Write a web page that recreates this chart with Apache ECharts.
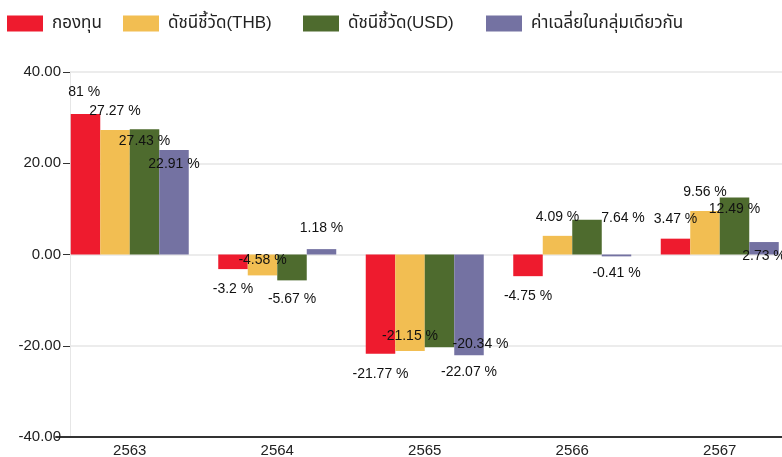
<!DOCTYPE html>
<html>
<head>
<meta charset="utf-8">
<script src="https://cdn.jsdelivr.net/npm/echarts@6/dist/echarts.min.js"></script>
<style>
html,body{margin:0;padding:0;background:#fff;}
#chart{width:782px;height:457px;}
</style>
</head>
<body>
<div id="chart"></div>
<script>
const categories = ['2563', '2564', '2565', '2566', '2567'];
const seriesNames = ['กองทุน', 'ดัชนีชี้วัด(THB)', 'ดัชนีชี้วัด(USD)', 'ค่าเฉลี่ยในกลุ่มเดียวกัน'];
const fundValues = [30.81, -3.2, -21.77, -4.75, 3.47];
const benchThbValues = [27.27, -4.58, -21.15, 4.09, 9.56];
const benchUsdValues = [27.43, -5.67, -20.34, 7.64, 12.49];
const peerAvgValues = [22.91, 1.18, -22.07, -0.41, 2.73];
const yMin = -40, yMax = 40, yStep = 20;

const colors = ['#EE1B2E', '#F2BE52', '#4E6B2E', '#7472A2'];
const FONT = "'Liberation Sans', Arial, 'Noto Sans Thai', Tahoma, sans-serif";

// label placement rules per series (style, derived from sign of value)
const labelRules = [
  v => ({ position: 'outside', distance: 13 }),
  v => v >= 0 ? { position: 'top', distance: 12 } : { position: 'insideBottom', distance: 8 },
  v => v >= 0 ? { position: 'insideTop', distance: 5 } : { position: 'outside', distance: 12 },
  v => v >= 2 ? { position: 'insideTop', distance: 7 } : (v >= 0 ? { position: 'top', distance: 14 } : { position: 'outside', distance: 10 })
];
// individual label nudges seen in the reference
const labelNudges = { '0-0': [-11, -2], '2-2': [41, -22], '2-3': [36, -14] };
// legend item left positions (layout)
const legendLefts = [7, 123, 303, 486];

const allValues = [fundValues, benchThbValues, benchUsdValues, peerAvgValues];

const series = allValues.map((vals, s) => ({
  name: seriesNames[s],
  type: 'bar',
  xAxisIndex: 1,
  yAxisIndex: 1,
  barGap: '0%',
  barCategoryGap: '20%',
  itemStyle: { color: colors[s] },
  data: vals.map((v, i) => {
    const lab = Object.assign({ show: true }, labelRules[s](v));
    const nudge = labelNudges[s + '-' + i];
    if (nudge) lab.offset = nudge;
    return { value: v, label: lab };
  }),
  label: {
    show: true,
    color: '#111',
    fontSize: 14,
    fontFamily: FONT,
    textBorderWidth: 0,
    formatter: p => p.value + ' %'
  }
}));

const legends = seriesNames.map((n, i) => ({
  left: legendLefts[i],
  top: 15,
  padding: 0,
  itemWidth: 36,
  itemHeight: 16,
  icon: 'rect',
  textStyle: { fontSize: 17, color: '#222', fontFamily: FONT, padding: [0, 0, 0, 4] },
  data: [n]
}));

const chart = echarts.init(document.getElementById('chart'), null, { renderer: 'canvas' });
chart.setOption({
  animation: false,
  color: colors,
  textStyle: { fontFamily: FONT },
  legend: legends,
  grid: [
    { left: 70, right: 0, top: 72, bottom: 20, outerBoundsMode: 'none' },
    { left: 56, width: 737.5, top: 72, bottom: 20, outerBoundsMode: 'none' }
  ],
  xAxis: [
    { gridIndex: 0, type: 'category', data: categories, show: false },
    {
      gridIndex: 1,
      type: 'category',
      data: categories,
      axisLine: { onZero: false, lineStyle: { color: '#333', width: 2 } },
      axisTick: { alignWithLabel: true, length: 5, lineStyle: { color: '#333' } },
      axisLabel: { fontSize: 15, color: '#222', margin: 6, fontFamily: FONT },
      splitLine: { show: false }
    }
  ],
  yAxis: [
    {
      gridIndex: 0,
      type: 'value',
      min: yMin, max: yMax, interval: yStep,
      axisLine: { show: true, lineStyle: { color: '#e6e6e6', width: 1 } },
      axisTick: { show: true, length: 7, lineStyle: { color: '#333' } },
      axisLabel: { fontSize: 15, color: '#222', margin: 9, fontFamily: FONT, formatter: v => v.toFixed(2) },
      splitLine: { show: true, lineStyle: { color: '#e6e6e6', width: 1.5 } }
    },
    {
      gridIndex: 1,
      type: 'value',
      min: yMin, max: yMax, interval: yStep,
      show: false,
      splitLine: { show: false }
    }
  ],
  graphic: [
    { type: 'rect', left: 0, top: 80, z: 100, shape: { width: 68, height: 22 }, style: { fill: '#fff' } }
  ],
  series: series
});
</script>
</body>
</html>
